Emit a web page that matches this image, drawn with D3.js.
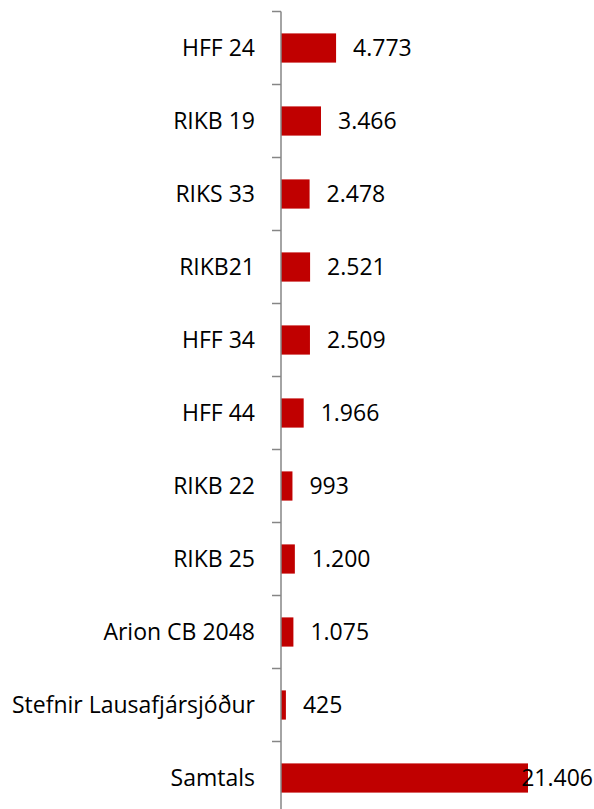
<!DOCTYPE html>
<html><head><meta charset="utf-8">
<script src="https://cdn.jsdelivr.net/npm/d3@7"></script>
<style>html,body{margin:0;padding:0;background:#fff;} svg{display:block;}</style>
</head><body>
<script>
const categories = ["HFF 24","RIKB 19","RIKS 33","RIKB21","HFF 34","HFF 44","RIKB 22","RIKB 25","Arion CB 2048","Stefnir Lausafjársjóður","Samtals"];
const values = [4773,3466,2478,2521,2509,1966,993,1200,1075,425,21406];
const labels = ["4.773","3.466","2.478","2.521","2.509","1.966","993","1.200","1.075","425","21.406"];

const W = 594, H = 809;
const font = "'Open Sans', sans-serif";
const svg = d3.select("body").append("svg").attr("width", W).attr("height", H);

const x = d3.scaleLinear().domain([0, 21406]).range([281, 528]);
const y = d3.scaleBand().domain(categories).range([11.5, 814.5]).paddingInner(0.6).paddingOuter(0.3);
const yStep = d3.scaleBand().domain(categories).range([11.5, 814.5]);

// bars
svg.selectAll("rect.bar").data(categories).enter().append("rect")
  .attr("x", x(0))
  .attr("y", d => y(d))
  .attr("width", (d,i) => x(values[i]) - x(0))
  .attr("height", y.bandwidth())
  .attr("fill", "#C00000");

// axis
const axis = svg.append("g");
axis.append("line").attr("x1", 281).attr("x2", 281).attr("y1", 11.5).attr("y2", H)
  .attr("stroke", "#868686").attr("stroke-width", 1.5);
const tickYs = categories.map(d => yStep(d)).concat([yStep.range()[1]]);
axis.selectAll("line.tick").data(tickYs).enter().append("line")
  .attr("x1", 272).attr("x2", 281).attr("y1", d => d).attr("y2", d => d)
  .attr("stroke", "#868686").attr("stroke-width", 1.5);

// category labels
svg.selectAll("text.cat").data(categories).enter().append("text")
  .attr("x", 255)
  .attr("y", d => yStep(d) + yStep.bandwidth()/2)
  .attr("dy", "0.35em")
  .attr("text-anchor", "end")
  .style("font-family", font).style("font-size", "23px").attr("fill", "#000")
  .text(d => d);

// value labels
svg.selectAll("text.val").data(categories).enter().append("text")
  .attr("y", d => yStep(d) + yStep.bandwidth()/2)
  .attr("dy", "0.35em")
  .style("font-family", font).style("font-size", "23px").attr("fill", "#000")
  .text((d,i) => labels[i])
  .each(function(d,i){
    const t = d3.select(this);
    const w = this.getComputedTextLength();
    let xs = x(values[i]) + 17;
    if (xs + w > 593) xs = 593 - w;
    t.attr("x", xs);
  });
</script>
</body></html>
